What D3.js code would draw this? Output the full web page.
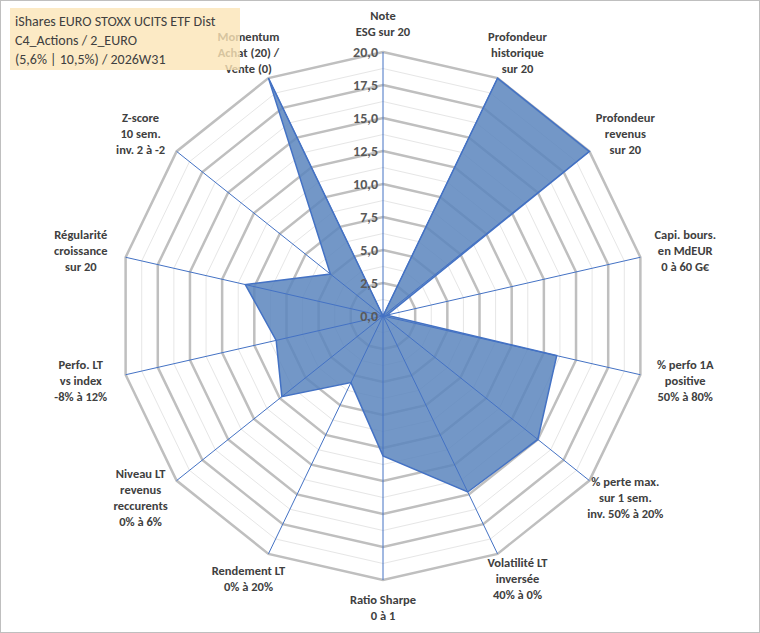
<!DOCTYPE html>
<html><head><meta charset="utf-8">
<script src="https://cdn.jsdelivr.net/npm/d3@7"></script>
<style>body{margin:0;background:#fff}svg{font-family:Calibri,"Liberation Sans",Arial,sans-serif}</style>
</head><body>
<svg id="chart" width="760" height="633"></svg>
<script>
// axis labels, clockwise from the top
var axes = [
  ["Note", "ESG sur 20"],
  ["Profondeur", "historique", "sur 20"],
  ["Profondeur", "revenus", "sur 20"],
  ["Capi. bours.", "en MdEUR", "0 à 60 G€"],
  ["% perfo 1A", "positive", "50% à 80%"],
  ["% perte max.", "sur 1 sem.", "inv. 50% à 20%"],
  ["Volatilité LT", "inversée", "40% à 0%"],
  ["Ratio Sharpe", "0 à 1"],
  ["Rendement LT", "0% à 20%"],
  ["Niveau LT", "revenus", "reccurents", "0% à 6%"],
  ["Perfo. LT", "vs index", "-8% à 12%"],
  ["Régularité", "croissance", "sur 20"],
  ["Z-score", "10 sem.", "inv. 2 à -2"],
  ["Momentum", "Achat (20) /", "Vente (0)"]
];
var values = [0, 20, 20, 0.3, 13.5, 15, 14.8, 10.6, 5.6, 9.8, 8.3, 10.7, 5.1, 20];
var ticks = [0, 2.5, 5, 7.5, 10, 12.5, 15, 17.5, 20];
var title = ["iShares EURO STOXX UCITS ETF Dist", "C4_Actions / 2_EURO", "(5,6% | 10,5%) / 2026W31"];

var svg = d3.select("#chart");
var cx = 383, cy = 316, R = 264;
var n = axes.length;
var r = d3.scaleLinear().domain([0, 20]).range([0, R]);
var ang = function(i) { return i * 2 * Math.PI / n; };
var pt = function(i, v) { return [cx + r(v) * Math.sin(ang(i)), cy - r(v) * Math.cos(ang(i))]; };
var ring = function(v) { return d3.range(n).map(function(i) { return pt(i, v); }); };

svg.append("rect").attr("x", 0.5).attr("y", 0.5).attr("width", 759).attr("height", 632)
  .attr("fill", "#fff").attr("stroke", "#bfbfbf");

// minor rings
d3.range(1.25, 20, 2.5).forEach(function(v) {
  svg.append("polygon").attr("points", ring(v).join(" "))
    .attr("fill", "none").attr("stroke", "#e6e6e6").attr("stroke-width", 1);
});
// major rings
ticks.slice(1).forEach(function(v) {
  svg.append("polygon").attr("points", ring(v).join(" "))
    .attr("fill", "none").attr("stroke", "#bfbfbf").attr("stroke-width", 2.5);
});

// data area
svg.append("polygon").attr("points", values.map(function(v, i) { return pt(i, v); }).join(" "))
  .attr("fill", "#5a85bd").attr("fill-opacity", 0.85)
  .attr("stroke", "#4472c4").attr("stroke-width", 1.5);

// spokes
d3.range(n).forEach(function(i) {
  var p = pt(i, 20);
  svg.append("line").attr("x1", cx).attr("y1", cy).attr("x2", p[0]).attr("y2", p[1])
    .attr("stroke", "#4472c4").attr("stroke-width", 1);
});

// tick labels
ticks.forEach(function(v) {
  svg.append("text").attr("x", cx - 5).attr("y", cy - r(v) + 5)
    .attr("text-anchor", "end").attr("font-size", 14).attr("font-weight", "bold")
    .attr("fill", "#595959").text(d3.format(".1f")(v).replace(".", ","));
});

// axis labels
axes.forEach(function(lines, i) {
  var x = cx + 310 * Math.sin(ang(i)), y = cy - 292 * Math.cos(ang(i));
  var t = svg.append("text").attr("text-anchor", "middle").attr("font-size", 12.5)
    .attr("font-weight", "bold").attr("fill", "#404040");
  lines.forEach(function(s, k) {
    t.append("tspan").attr("x", x).attr("y", y + (k - (lines.length - 1) / 2) * 16 + 4).text(s);
  });
});

// title box
svg.append("rect").attr("x", 10).attr("y", 8).attr("width", 230).attr("height", 62)
  .attr("fill", "#fbe5b6").attr("fill-opacity", 0.8);
title.forEach(function(s, k) {
  svg.append("text").attr("x", 15).attr("y", 26 + k * 19).attr("font-size", 14)
    .attr("fill", "#404040").text(s);
});
</script>
</body></html>
